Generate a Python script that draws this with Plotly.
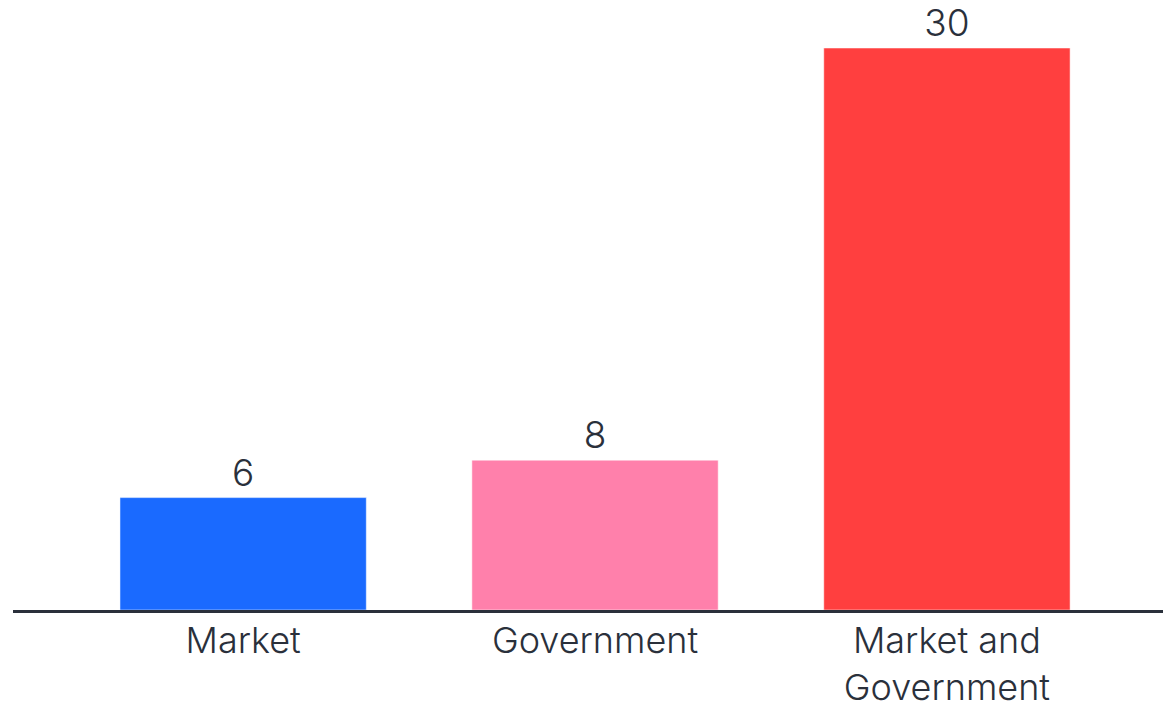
import plotly.graph_objects as go

categories = ["Market", "Government", "Market and<br>Government"]
values = [6, 8, 30]
colors = ["#1a6aff", "#ff80ab", "#ff3f3f"]

text_color = "#2a303b"
font_family = "Inter, 'Noto Sans', sans-serif"

fig = go.Figure(
    go.Bar(
        x=categories,
        y=values,
        width=0.7,
        marker=dict(color=colors, line=dict(width=1, color="rgba(255,255,255,0.5)")),
        text=[str(v) for v in values],
        textposition="outside",
        cliponaxis=False,
        textfont=dict(size=37, color=text_color, family=font_family, weight=300),
    )
)

fig.update_layout(
    width=1163,
    height=711,
    margin=dict(l=13, r=0, t=48, b=101),
    paper_bgcolor="white",
    plot_bgcolor="white",
    showlegend=False,
    font=dict(family=font_family, color=text_color, size=36, weight=300),
    xaxis=dict(
        range=[-0.654, 2.614],
        automargin=False,
        showline=True,
        linecolor=text_color,
        linewidth=3,
        showgrid=False,
        ticks="",
        ticklabelstandoff=-3,
        tickfont=dict(size=36, color=text_color, family=font_family, weight=300),
    ),
    yaxis=dict(
        range=[0, 30],
        visible=False,
        automargin=False,
        showgrid=False,
        zeroline=False,
    ),
)

fig.write_html("out.html")
